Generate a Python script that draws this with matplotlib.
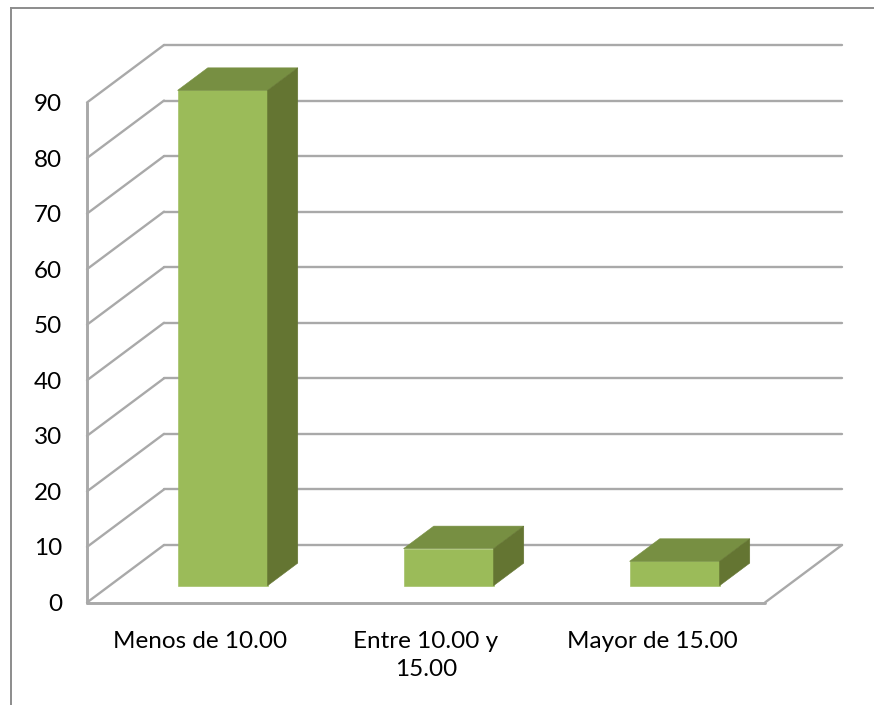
import matplotlib
matplotlib.use("Agg")
import matplotlib.pyplot as plt
from matplotlib.patches import Polygon

categories = ["Menos de 10.00", "Entre 10.00 y\n15.00", "Mayor de 15.00"]
values = [89.15, 6.66, 4.38]
y_ticks = [0, 10, 20, 30, 40, 50, 60, 70, 80, 90]

W, H = 874, 705
plt.rcParams["font.family"] = ["Lato", "DejaVu Sans"]
fig = plt.figure(figsize=(W / 100, H / 100), dpi=100)
fig.patch.set_facecolor("white")
ax = fig.add_axes([87 / W, 1 - 602.5 / H, 678 / W, 500 / H])
ax.set_xlim(-0.5, 2.5)
ax.set_ylim(0, 90)
ax.patch.set_alpha(0)
for s in ax.spines.values():
    s.set_visible(False)

DX, DY = 77 / 226, 57.5 / (500 / 90)   # floor depth in data units
GRID = "#a9a9a9"
LW = 1.7


def p(x, y, d):
    return (x + d * DX, y + d * DY)


def line(a, b, lw=LW, color=GRID, z=1):
    ax.plot([a[0], b[0]], [a[1], b[1]], color=color, lw=lw, zorder=z,
            clip_on=False, solid_capstyle="round", solid_joinstyle="round")


x0, x1 = -0.5, 2.5
for t in y_ticks:
    line(p(x0, t, 0), p(x0, t, 1))
    line(p(x0, t, 1), p(x1, t, 1))
line(p(x0, 0, 0), p(x0, 90, 0), lw=2.1)
line(p(x0, 0, 0), p(x1, 0, 0), lw=2.1)
line(p(x1, 0, 0), p(x1, 0, 1))

# 3D bars
BW = 90 / 226
D0, D1 = 0.293, 0.685
FRONT, TOP, SIDE = "#9bbb59", "#778f42", "#647532"
for i, v in enumerate(values):
    l, r = i - BW / 2, i + BW / 2
    faces = [
        ([p(l, 0, D0), p(r, 0, D0), p(r, v, D0), p(l, v, D0)], FRONT),
        ([p(l, v, D0), p(r, v, D0), p(r, v, D1), p(l, v, D1)], TOP),
        ([p(r, 0, D0), p(r, 0, D1), p(r, v, D1), p(r, v, D0)], SIDE),
    ]
    for pts, c in faces:
        ax.add_patch(Polygon(pts, closed=True, facecolor=c, edgecolor=c, lw=0.4,
                             zorder=3, clip_on=False))

ax.set_yticks(y_ticks)
ax.set_yticklabels([str(t) for t in y_ticks])
ax.set_xticks(range(len(categories)))
ax.set_xticklabels(categories, linespacing=1.42)
ax.tick_params(axis="y", length=0, pad=18, labelsize=17.5, labelcolor="black")
ax.tick_params(axis="x", length=0, pad=20.5, labelsize=17.5, labelcolor="black")

# chart-area border (open at right and bottom, as cropped)
fig.add_artist(plt.Line2D([11 / W, 11 / W], [0, 1 - 8 / H], color="#8c8c8c", lw=1.4))
fig.add_artist(plt.Line2D([11 / W, 1], [1 - 8 / H, 1 - 8 / H], color="#8c8c8c", lw=1.4))

fig.savefig("out.png", dpi=100)
